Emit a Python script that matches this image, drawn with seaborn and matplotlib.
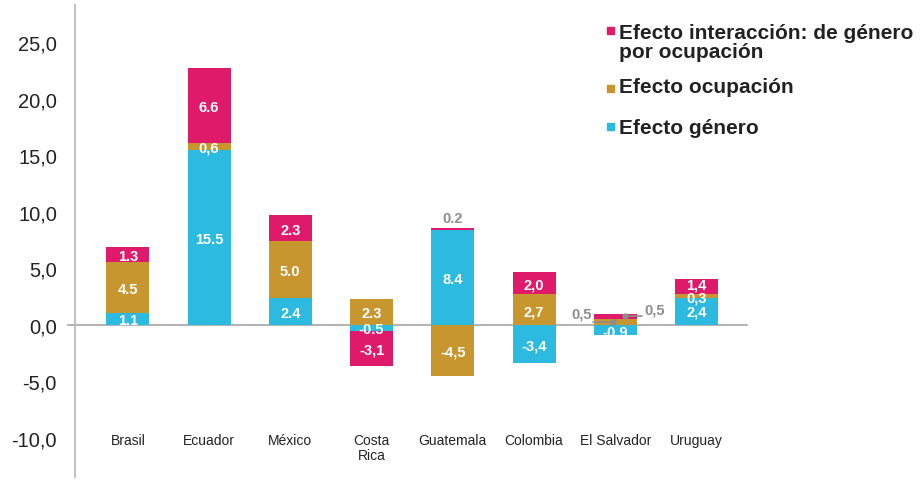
import numpy as np
import pandas as pd
import seaborn as sns
import matplotlib.pyplot as plt
from matplotlib.patches import Rectangle

# Countries and the three components of the wage gap decomposition.
# Values are kept as the published label text (mixed decimal separators).
paises = ["Brasil", "Ecuador", "México", "Costa\nRica", "Guatemala",
          "Colombia", "El Salvador", "Uruguay"]
efecto_genero = ["1.1", "15.5", "2.4", "-0.5", "8.4", "-3,4", "-0,9", "2,4"]
efecto_ocupacion = ["4.5", "0,6", "5.0", "2.3", "-4,5", "2,7", "0,5", "0,3"]
efecto_interaccion = ["1.3", "6.6", "2.3", "-3,1", "0.2", "2,0", "0,5", "1,4"]

series_nombres = ["Efecto género", "Efecto ocupación",
                  "Efecto interacción: de género\npor ocupación"]
series_colores = ["#2CBAE0", "#C8962F", "#E01A6A"]
series_textos = [efecto_genero, efecto_ocupacion, efecto_interaccion]


def a_numero(textos):
    return np.array([float(t.replace(",", ".")) for t in textos])


sns.set_theme(style="white")
plt.rcParams["font.family"] = ["Liberation Sans", "DejaVu Sans"]

fig = plt.figure(figsize=(9.21, 4.81), dpi=100)
ax = fig.add_axes([75 / 921, 3 / 481, (747 - 75) / 921, (478 - 6) / 481])

n = len(paises)
base_pos = np.zeros(n)
base_neg = np.zeros(n)
segmentos = []  # (serie, indice, centro, valor, texto)
for s, (textos, color) in enumerate(zip(series_textos, series_colores)):
    vals = a_numero(textos)
    inicio = np.where(vals >= 0, base_pos, base_neg)
    sns.barplot(x=paises, y=vals, order=paises, color=color, saturation=1,
                width=0.53, bottom=inicio, errorbar=None, linewidth=0,
                ax=ax)
    for i in range(n):
        segmentos.append((s, i, inicio[i] + vals[i] / 2, vals[i], textos[i]))
    base_pos = np.where(vals >= 0, base_pos + vals, base_pos)
    base_neg = np.where(vals < 0, base_neg + vals, base_neg)

gris = "#8C8C8C"
i_guat = paises.index("Guatemala")
i_salv = paises.index("El Salvador")
i_urug = paises.index("Uruguay")
# thin Uruguay segments: spread the labels a little apart vertically
ajuste_urug = {0: 0.1, 1: 0.0, 2: 0.35}

for s, i, centro, val, txt in segmentos:
    if i == i_salv and s > 0:
        continue
    if i == i_guat and s == 2:
        ax.text(i, base_pos[i] + 0.9, txt, ha="center", va="center",
                color=gris, fontsize=10.5, fontweight="bold")
        continue
    y = centro + (ajuste_urug[s] if i == i_urug else 0.0)
    ax.text(i, y, txt, ha="center", va="center_baseline", color="white",
            fontsize=10.5, fontweight="bold")

# Small El Salvador segments: labels outside with leader lines
ocup_salv = a_numero(efecto_ocupacion)[i_salv]
inter_salv = a_numero(efecto_interaccion)[i_salv]
y_ocup = ocup_salv / 2
y_inter = ocup_salv + inter_salv / 2
ax.plot([i_salv - 0.27, i_salv - 0.03], [y_ocup, y_ocup], color=gris, lw=1.2)
ax.plot([i_salv - 0.03], [y_ocup], "o", color=gris, ms=3.5)
ax.text(i_salv - 0.41, y_ocup + 0.75, efecto_ocupacion[i_salv], ha="center",
        va="center", color=gris, fontsize=10.5, fontweight="bold")
ax.plot([i_salv + 0.12, i_salv + 0.33], [y_inter, y_inter], color=gris, lw=1.2)
ax.plot([i_salv + 0.12], [y_inter], "o", color=gris, ms=3.5)
ax.text(i_salv + 0.48, y_inter + 0.6, efecto_interaccion[i_salv], ha="center",
        va="center", color=gris, fontsize=10.5, fontweight="bold")

# Country names inside the plot, below the bars
for i, p in enumerate(paises):
    ax.text(i, -9.6, p, ha="center", va="top", fontsize=10, color="#222222",
            linespacing=1.05)

ax.set_xlim(-0.65, 7.62)
ax.set_ylim(-13.45, 28.3)
ticks = np.arange(-10, 26, 5)
ax.set_yticks(ticks)
ax.set_yticklabels([f"{t:.1f}".replace(".", ",") for t in ticks],
                   fontsize=14.5, color="#222222")
ax.set_xticks([])
ax.set_xlabel("")
ax.tick_params(axis="y", length=0, pad=13)
for lado in ["top", "right", "bottom"]:
    ax.spines[lado].set_visible(False)
ax.spines["left"].set_color("#BBBBBB")
ax.spines["left"].set_linewidth(1.3)
ax.plot([-0.011, 1.0], [0, 0], color="#B5B5B5", lw=1.5,
        transform=ax.get_yaxis_transform(), clip_on=False, zorder=0.5)

# Legend drawn in figure pixels (baseline of the last text line)
W, H = 921, 481
leyenda = [(2, 58, 28), (1, 93, 86), (0, 134, 124)]
for s, base_y, cuad_y in leyenda:
    fig.patches.append(Rectangle((607 / W, 1 - (cuad_y + 7) / H), 7 / W, 7 / H,
                                 transform=fig.transFigure,
                                 color=series_colores[s]))
    fig.text(619 / W, 1 - base_y / H, series_nombres[s], ha="left",
             va="baseline", fontsize=15, fontweight="bold",
             color="#222222", linespacing=1.0)

fig.savefig("out.png", dpi=100)
